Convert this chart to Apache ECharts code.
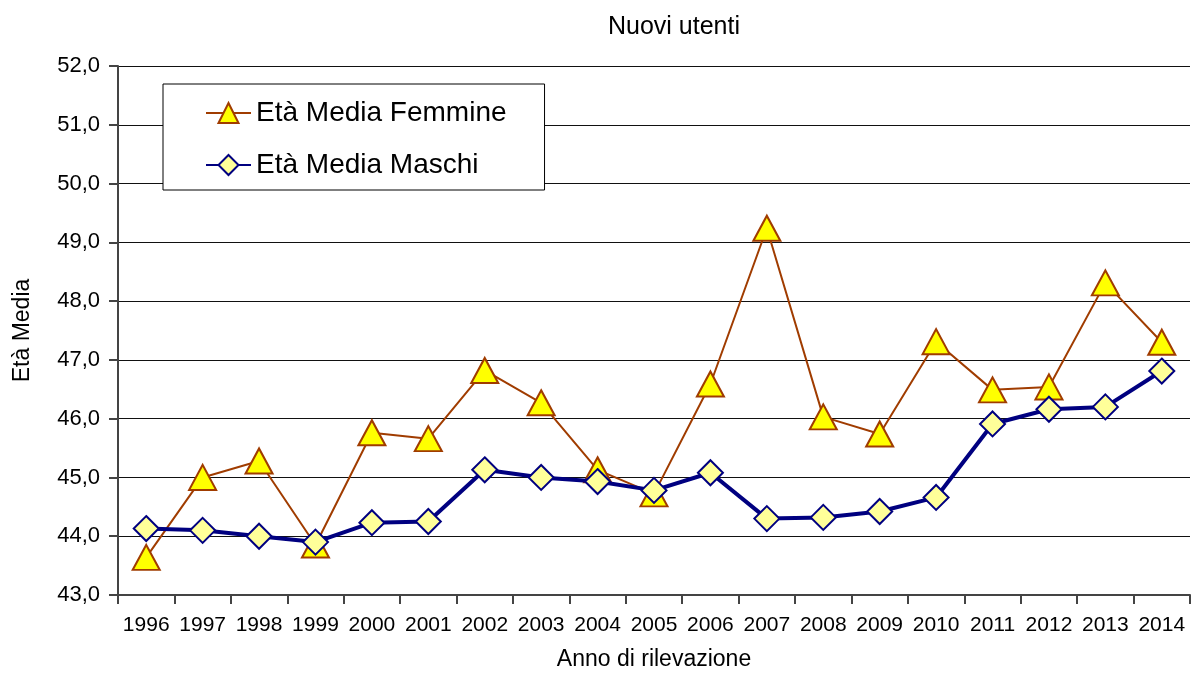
<!DOCTYPE html>
<html>
<head>
<meta charset="utf-8">
<script src="https://cdn.jsdelivr.net/npm/echarts@6/dist/echarts.min.js"></script>
<style>
  html, body { margin: 0; padding: 0; background: #fff; }
  #chart { width: 1191px; height: 676px; }
</style>
</head>
<body>
<div id="chart"></div>
<script>
// anni di rilevazione
const anni = ['1996', '1997', '1998', '1999', '2000', '2001', '2002', '2003', '2004', '2005',
              '2006', '2007', '2008', '2009', '2010', '2011', '2012', '2013', '2014'];
const etaFemmine = [43.64, 45.0, 45.28, 43.85, 45.76, 45.66, 46.82, 46.27, 45.13, 44.72,
                    46.59, 49.24, 46.03, 45.74, 47.31, 46.49, 46.54, 48.31, 47.30];
const etaMaschi = [44.13, 44.10, 44.0, 43.90, 44.23, 44.25, 45.13, 45.0, 44.93, 44.78,
                   45.08, 44.30, 44.32, 44.42, 44.66, 45.91, 46.16, 46.20, 46.81];

const font = 'Liberation Sans, Arial, sans-serif';
const chart = echarts.init(document.getElementById('chart'));

const option = {
    animation: false,
    backgroundColor: '#fff',
    title: {
        text: 'Nuovi utenti',
        left: 669,
        top: 10,
        textAlign: 'center',
        textStyle: { fontFamily: font, fontSize: 25, fontWeight: 'normal', color: '#000' }
    },
    legend: {
        orient: 'vertical',
        left: 163,
        top: 84,
        padding: [15, 38, 11, 42],
        itemGap: 24,
        itemWidth: 45,
        itemHeight: 25,
        backgroundColor: '#fff',
        borderColor: '#000',
        borderWidth: 1,
        textStyle: { fontFamily: font, fontSize: 28, color: '#000' },
        data: ['Età Media Femmine', 'Età Media Maschi']
    },
    grid: { left: 118, right: 1, top: 66, bottom: 78 },
    xAxis: {
        type: 'category',
        data: anni,
        boundaryGap: true,
        name: 'Anno di rilevazione',
        nameLocation: 'middle',
        nameGap: 53,
        nameTextStyle: { fontFamily: font, fontSize: 23, color: '#000' },
        axisLine: { lineStyle: { color: '#444', width: 2 } },
        axisTick: { show: true, interval: 0, length: 9, lineStyle: { color: '#444', width: 2 } },
        axisLabel: { interval: 0, fontFamily: font, fontSize: 21, color: '#000', margin: 20 }
    },
    yAxis: {
        type: 'value',
        min: 43,
        max: 52,
        interval: 1,
        name: 'Età Media',
        nameLocation: 'middle',
        nameGap: 84,
        nameTextStyle: { fontFamily: font, fontSize: 23, color: '#000' },
        axisLine: { show: true, lineStyle: { color: '#444', width: 2 } },
        axisTick: { show: true, length: 9, lineStyle: { color: '#444', width: 2 } },
        splitLine: { lineStyle: { color: '#111', width: 1 } },
        axisLabel: {
            fontFamily: font, fontSize: 22, color: '#000', margin: 18,
            formatter: v => v.toFixed(1).replace('.', ',')
        }
    },
    series: [
        {
            name: 'Età Media Femmine',
            type: 'line',
            data: etaFemmine,
            symbol: 'triangle',
            symbolSize: [27, 25],
            lineStyle: { color: '#A03C00', width: 2 },
            itemStyle: { color: '#FFFF00', borderColor: '#A03C00', borderWidth: 2 },
            z: 2
        },
        {
            name: 'Età Media Maschi',
            type: 'line',
            data: etaMaschi,
            symbol: 'diamond',
            symbolSize: [25, 25],
            lineStyle: { color: '#000080', width: 4 },
            itemStyle: { color: '#FFFF99', borderColor: '#000080', borderWidth: 2 },
            z: 3
        }
    ]
};

chart.setOption(option);
</script>
</body>
</html>
